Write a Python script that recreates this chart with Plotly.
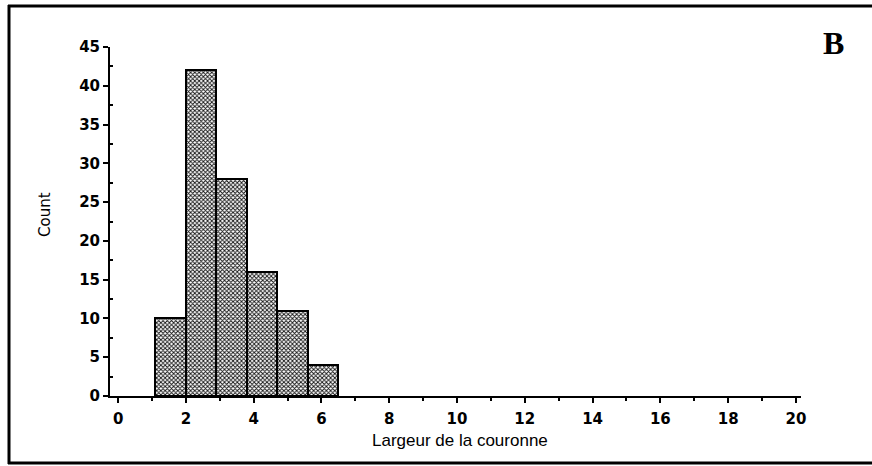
import plotly.graph_objects as go

bin_edges = [1.1, 2.0, 2.9, 3.8, 4.7, 5.6, 6.5]
counts = [10, 42, 28, 16, 11, 4]
x_ticks = [0, 2, 4, 6, 8, 10, 12, 14, 16, 18, 20]
y_ticks = [0, 5, 10, 15, 20, 25, 30, 35, 40, 45]
x_title = "Largeur de la couronne"
y_title = "Count"
panel_label = "B"

centers = [(a + b) / 2 for a, b in zip(bin_edges[:-1], bin_edges[1:])]
widths = [b - a for a, b in zip(bin_edges[:-1], bin_edges[1:])]

W, H = 872, 466
L, R, T, B = 110, 801, 47, 396


def px(xp):
    return (xp - L) / (R - L)


def py(yp):
    return (B - yp) / (B - T)


fig = go.Figure(go.Bar(
    x=centers, y=counts, width=widths,
    marker=dict(color="white",
                line=dict(color="black", width=2),
                pattern=dict(shape="x", size=3, solidity=0.5,
                             fgcolor="#111111", bgcolor="white", fillmode="replace")),
))

font_ticks = dict(family="DejaVu Sans", size=15, color="black", weight="bold")
frame = dict(color="black", width=3)

fig.update_layout(
    width=W, height=H, autosize=False,
    margin=dict(l=L, r=W - R, t=T, b=H - B, pad=0),
    paper_bgcolor="white", plot_bgcolor="white",
    showlegend=False, bargap=0,
    xaxis=dict(range=[-0.24, 20.15], tickvals=x_ticks, ticktext=[str(v) for v in x_ticks],
               automargin=False, ticklabelstandoff=3,
               showgrid=False, zeroline=False, showline=True, linecolor="black", linewidth=2,
               ticks="outside", ticklen=5, tickwidth=2, tickcolor="black",
               minor=dict(tickvals=[v + 1 for v in x_ticks[:-1]], ticks="outside", ticklen=3,
                          tickwidth=2, tickcolor="black", showgrid=False),
               tickfont=font_ticks),
    yaxis=dict(range=[0, 45], tickvals=y_ticks, ticktext=[str(v) for v in y_ticks],
               automargin=False,
               showgrid=False, zeroline=False, showline=True, linecolor="black", linewidth=2,
               ticks="outside", ticklen=5, tickwidth=2, tickcolor="black",
               minor=dict(tickvals=[v + 2.5 for v in y_ticks[:-1]], ticks="inside", ticklen=3,
                          tickwidth=2, tickcolor="black", showgrid=False),
               tickfont=font_ticks),
    shapes=[
        dict(type="line", xref="paper", yref="paper", x0=px(9), x1=px(9), y0=py(464), y1=py(5), line=frame),
        dict(type="line", xref="paper", yref="paper", x0=px(8), x1=px(880), y0=py(6), y1=py(6), line=frame),
        dict(type="line", xref="paper", yref="paper", x0=px(8), x1=px(880), y0=py(463), y1=py(463), line=frame),
    ],
    annotations=[
        dict(text=panel_label, xref="paper", yref="paper", x=px(833), y=py(43), showarrow=False,
             xanchor="center", yanchor="middle",
             font=dict(family="Liberation Serif, Times New Roman", size=32, color="black", weight="bold")),
        dict(text=x_title, xref="paper", yref="paper", x=px(460), y=py(440), showarrow=False,
             xanchor="center", yanchor="middle",
             font=dict(family="Liberation Sans, Arial", size=17, color="black")),
        dict(text=y_title, xref="paper", yref="paper", x=px(45), y=py(215), showarrow=False,
             xanchor="center", yanchor="middle", textangle=-90,
             font=dict(family="DejaVu Sans", size=15, color="black")),
    ],
)

fig.write_html("out.html", config={"displayModeBar": False},
               post_script="document.body.style.margin='0px';document.body.style.overflow='hidden';")
